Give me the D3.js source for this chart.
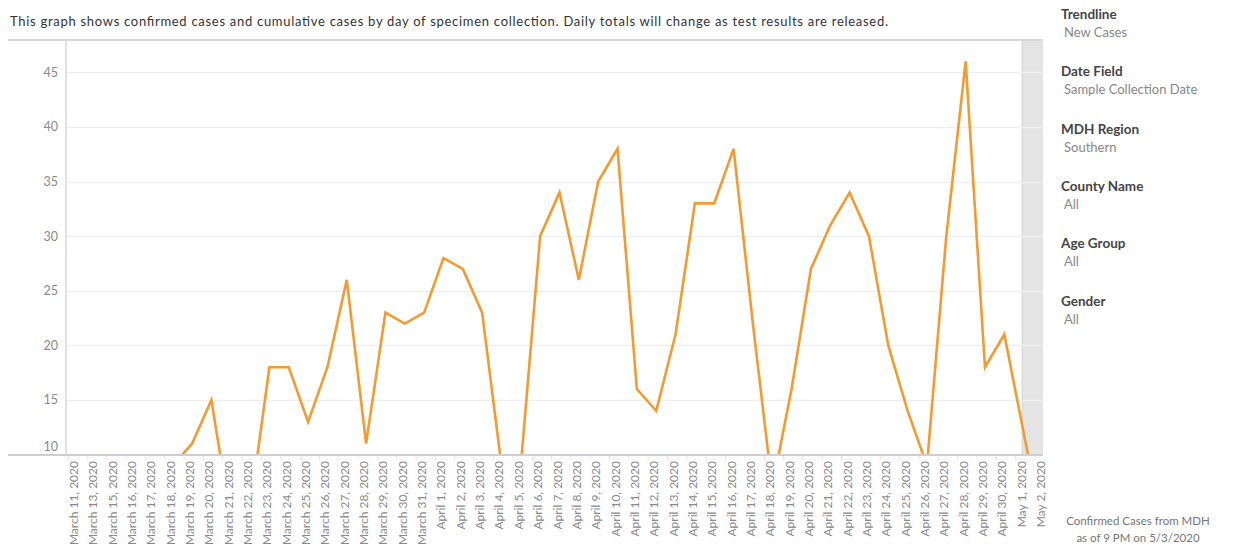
<!DOCTYPE html>
<html>
<head>
<meta charset="utf-8">
<script src="https://cdn.jsdelivr.net/npm/d3@7/dist/d3.min.js"></script>
<style>
  html, body { margin: 0; padding: 0; background: #fff; }
  svg { display: block; font-family: Lato, "Open Sans", sans-serif; }
</style>
</head>
<body>
<svg id="chart" width="1235" height="550"></svg>
<script>
// ---- data ----
const dates = [
  "March 11, 2020","March 13, 2020","March 15, 2020","March 16, 2020","March 17, 2020",
  "March 18, 2020","March 19, 2020","March 20, 2020","March 21, 2020","March 22, 2020",
  "March 23, 2020","March 24, 2020","March 25, 2020","March 26, 2020","March 27, 2020",
  "March 28, 2020","March 29, 2020","March 30, 2020","March 31, 2020",
  "April 1, 2020","April 2, 2020","April 3, 2020","April 4, 2020","April 5, 2020",
  "April 6, 2020","April 7, 2020","April 8, 2020","April 9, 2020","April 10, 2020",
  "April 11, 2020","April 12, 2020","April 13, 2020","April 14, 2020","April 15, 2020",
  "April 16, 2020","April 17, 2020","April 18, 2020","April 19, 2020","April 20, 2020",
  "April 21, 2020","April 22, 2020","April 23, 2020","April 24, 2020","April 25, 2020",
  "April 26, 2020","April 27, 2020","April 28, 2020","April 29, 2020","April 30, 2020",
  "May 1, 2020","May 2, 2020"
];
const newCases = [
  1, 2, 3, 4, 6,
  9, 11, 15, 4, 5,
  18, 18, 13, 18, 26,
  11, 23, 22, 23,
  28, 27, 23, 9, 9,
  30, 34, 26, 35, 38,
  16, 14, 21, 33, 33,
  38, 22, 7, 16, 27,
  31, 34, 30, 20, 14,
  9, 30, 46, 18, 21,
  12, 3
];
const yTicks = [10, 15, 20, 25, 30, 35, 40, 45];
const title = "This graph shows confirmed cases and cumulative cases by day of specimen collection. Daily totals will change as test results are released.";
const filterNames = ["Trendline", "Date Field", "MDH Region", "County Name", "Age Group", "Gender"];
const filterValues = ["New Cases", "Sample Collection Date", "Southern", "All", "All", "All"];
const footnote = ["Confirmed Cases from MDH", "as of 9 PM on 5/3/2020"];
const shadedFrom = "May 1, 2020";

// ---- layout ----
const svg = d3.select("#chart");
const plot = { left: 66, right: 1043, top: 40, bottom: 455 };

const x = d3.scalePoint().domain(dates).range([76, 1043]);
const y = d3.scaleLinear().domain([10, 48]).range([454.6, 39.6]);

svg.append("defs").append("clipPath").attr("id", "clip")
  .append("rect")
  .attr("x", plot.left).attr("y", plot.top)
  .attr("width", plot.right - plot.left).attr("height", plot.bottom - plot.top);

// title
svg.append("text")
  .attr("x", 10).attr("y", 26)
  .attr("font-size", 13).attr("fill", "#333")
  .attr("textLength", 878).attr("lengthAdjust", "spacing")
  .text(title);

// shaded incomplete-period band
svg.append("rect")
  .attr("x", x(shadedFrom) - 1.5).attr("y", plot.top)
  .attr("width", plot.right - x(shadedFrom) + 1.5)
  .attr("height", plot.bottom - plot.top)
  .attr("fill", "#e4e4e4");
svg.append("line")
  .attr("x1", x(shadedFrom) - 1.5).attr("x2", x(shadedFrom) - 1.5)
  .attr("y1", plot.top).attr("y2", plot.bottom)
  .attr("stroke", "#d2d2d2").attr("stroke-width", 1);

// gridlines
svg.append("g").selectAll("line")
  .data(yTicks.filter(t => t > 10))
  .join("line")
  .attr("x1", plot.left).attr("x2", plot.right)
  .attr("y1", d => Math.round(y(d)) + 0.5).attr("y2", d => Math.round(y(d)) + 0.5)
  .attr("stroke", "#efefef").attr("stroke-width", 1.5);

// y tick labels
svg.append("g").selectAll("text")
  .data(yTicks)
  .join("text")
  .attr("x", 58)
  .attr("y", d => d === 10 ? y(d) - 4 : y(d) + 4.5)
  .attr("text-anchor", "end")
  .attr("font-size", 12.5).attr("fill", "#8a8a8a")
  .text(d => d);

// frame lines
svg.append("line")
  .attr("x1", 8).attr("x2", plot.right)
  .attr("y1", plot.top).attr("y2", plot.top)
  .attr("stroke", "#d9d9d9").attr("stroke-width", 2);
svg.append("line")
  .attr("x1", plot.left).attr("x2", plot.left)
  .attr("y1", plot.top).attr("y2", plot.bottom)
  .attr("stroke", "#d9d9d9").attr("stroke-width", 1.5);

// line series
const line = d3.line()
  .x((d, i) => x(dates[i]))
  .y(d => y(d));
svg.append("path")
  .datum(newCases)
  .attr("clip-path", "url(#clip)")
  .attr("d", line)
  .attr("fill", "none")
  .attr("stroke", "#f39a30")
  .attr("stroke-width", 2.6)
  .attr("stroke-linejoin", "miter");

// bottom axis line
svg.append("line")
  .attr("x1", 8).attr("x2", plot.right)
  .attr("y1", plot.bottom).attr("y2", plot.bottom)
  .attr("stroke", "#cfcfcf").attr("stroke-width", 2);

// x tick marks
svg.append("g").selectAll("line")
  .data(dates)
  .join("line")
  .attr("x1", d => x(d) - 8).attr("x2", d => x(d) - 8)
  .attr("y1", plot.bottom + 1).attr("y2", plot.bottom + 5)
  .attr("stroke", "#e6e6e6").attr("stroke-width", 1);

// x labels
svg.append("g").selectAll("text")
  .data(dates)
  .join("text")
  .attr("transform", d => `translate(${x(d) + 2},${plot.bottom + 6}) rotate(-90)`)
  .attr("text-anchor", "end")
  .attr("font-size", 12).attr("fill", "#8a8a8a")
  .text(d => d);

// filter panel
const fp = svg.append("g");
filterNames.forEach((name, i) => {
  const y0 = 19 + i * 57.3;
  fp.append("text").attr("x", 1061).attr("y", y0)
    .attr("font-size", 13.5).attr("font-weight", "bold").attr("fill", "#444")
    .text(name);
  fp.append("text").attr("x", 1064).attr("y", y0 + 18)
    .attr("font-size", 13).attr("fill", "#888")
    .text(filterValues[i]);
});

// footnote
svg.append("g").selectAll("text")
  .data(footnote)
  .join("text")
  .attr("x", 1138).attr("y", (d, i) => 525 + i * 17)
  .attr("text-anchor", "middle")
  .attr("font-size", 11.5).attr("fill", "#777")
  .text(d => d);
</script>
</body>
</html>
